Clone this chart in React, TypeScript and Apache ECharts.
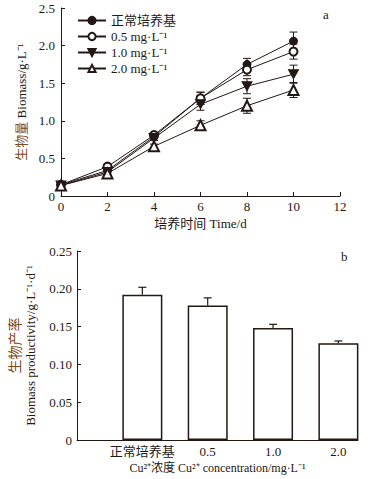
import React, { useEffect, useRef } from "react";
import * as echarts from "echarts";

const days = [0, 2, 4, 6, 8, 10];
const seriesNames = ["正常培养基", "0.5 mg·L⁻¹", "1.0 mg·L⁻¹", "2.0 mg·L⁻¹"];
const normalVals = [0.15, 0.34, 0.79, 1.3, 1.75, 2.06];
const c05Vals = [0.15, 0.39, 0.81, 1.3, 1.68, 1.92];
const c10Vals = [0.14, 0.32, 0.77, 1.22, 1.46, 1.62];
const c20Vals = [0.14, 0.3, 0.66, 0.94, 1.2, 1.41];
const normalErr = [0.02, 0.02, 0.03, 0.08, 0.08, 0.12];
const c05Err = [0.02, 0.02, 0.03, 0.08, 0.08, 0.1];
const c10Err = [0.02, 0.03, 0.03, 0.08, 0.1, 0.12];
const c20Err = [0.02, 0.02, 0.03, 0.06, 0.1, 0.1];

const barCats = ["正常培养基", "0.5", "1.0", "2.0"];
const barVals = [0.192, 0.178, 0.148, 0.128];
const barErr = [0.01, 0.01, 0.005, 0.003];

const INK = "#231815";
const BROWN = "#7a4a22";
const FONT = "'Liberation Serif', 'Times New Roman', 'Noto Sans CJK SC', serif";

export default function App() {
  const ref = useRef<HTMLDivElement>(null);
  useEffect(() => {
    const chart = echarts.init(ref.current!, undefined, { renderer: "svg" });

    const lineVals = [normalVals, c05Vals, c10Vals, c20Vals];
    const errs = [normalErr, c05Err, c10Err, c20Err];
    const symbols = ["circle", "emptyCircle", "path://M0,0 L10,0 L5,9 Z", "emptyTriangle"];
    const sizes: any[] = [8, 8, [10, 9], 10];

    const errSeries = lineVals.map((vals, si) => ({
      type: "custom",
      xAxisIndex: 0,
      yAxisIndex: 0,
      z: 1,
      silent: true,
      data: days.map((d, i) => [d, vals[i], errs[si][i]]),
      renderItem: (params: any, api: any) => {
        const x = api.value(0);
        const y = api.value(1);
        const e = api.value(2);
        const top = api.coord([x, y + e]);
        const bot = api.coord([x, y - e]);
        const hw = 4;
        const st = { stroke: INK, lineWidth: 1 };
        return {
          type: "group",
          children: [
            { type: "line", shape: { x1: top[0], y1: top[1], x2: bot[0], y2: bot[1] }, style: st },
            { type: "line", shape: { x1: top[0] - hw, y1: top[1], x2: top[0] + hw, y2: top[1] }, style: st },
            { type: "line", shape: { x1: bot[0] - hw, y1: bot[1], x2: bot[0] + hw, y2: bot[1] }, style: st },
          ],
        };
      },
    }));

    const lineSeries = lineVals.map((vals, si) => ({
      name: seriesNames[si],
      type: "line",
      xAxisIndex: 0,
      yAxisIndex: 0,
      z: 3,
      data: days.map((d, i) => [d, vals[i]]),
      symbol: symbols[si],
      symbolSize: sizes[si],
      showAllSymbol: true,
      lineStyle: { color: INK, width: 1 },
      itemStyle: { color: INK, borderColor: INK, borderWidth: 1 },
    }));

    const barSeries = {
      type: "bar",
      xAxisIndex: 1,
      yAxisIndex: 1,
      barWidth: 40,
      z: 3,
      data: barVals.map((v, i) => [i + 1, v]),
      itemStyle: { color: "#fff", borderColor: INK, borderWidth: 1.5 },
    };
    const barErrSeries = {
      type: "custom",
      xAxisIndex: 1,
      yAxisIndex: 1,
      z: 4,
      silent: true,
      data: barVals.map((v, i) => [i + 1, v, barErr[i]]),
      renderItem: (params: any, api: any) => {
        const x = api.value(0);
        const y = api.value(1);
        const e = api.value(2);
        const top = api.coord([x, y + e]);
        const base = api.coord([x, y]);
        const st = { stroke: INK, lineWidth: 1.2 };
        return {
          type: "group",
          children: [
            { type: "line", shape: { x1: top[0], y1: top[1], x2: base[0], y2: base[1] }, style: st },
            { type: "line", shape: { x1: top[0] - 4, y1: top[1], x2: top[0] + 4, y2: top[1] }, style: st },
          ],
        };
      },
    };

    const axisCommon = {
      axisLine: { show: true, lineStyle: { color: INK, width: 1 } },
      splitLine: { show: false },
      axisLabel: { color: INK, fontFamily: FONT, fontSize: 13 },
    };

    chart.setOption({
      animation: false,
      textStyle: { fontFamily: FONT, color: INK },
      grid: [
        { left: 61, top: 8, width: 279, height: 188 },
        { left: 74, top: 251, width: 284, height: 189 },
      ],
      legend: {
        data: seriesNames,
        orient: "vertical",
        left: 72,
        top: 9,
        itemWidth: 28,
        itemHeight: 9,
        itemGap: 3,
        textStyle: { fontFamily: FONT, fontSize: 13, color: INK },
      },
      xAxis: [
        {
          ...axisCommon,
          gridIndex: 0,
          type: "value",
          min: 0,
          max: 12,
          interval: 2,
          axisTick: { show: true, inside: true, length: 4, lineStyle: { color: INK } },
          axisLabel: { ...axisCommon.axisLabel, margin: 4 },
          name: "培养时间 Time/d",
          nameLocation: "middle",
          nameGap: 21,
          nameTextStyle: { fontFamily: FONT, fontSize: 13, color: INK },
        },
        {
          ...axisCommon,
          gridIndex: 1,
          type: "value",
          min: 0,
          max: 4.3,
          interval: 1,
          axisTick: { show: false },
          axisLabel: {
            ...axisCommon.axisLabel,
            margin: 5,
            showMaxLabel: false,
            formatter: (v: number) => (v >= 1 && v <= 4 ? barCats[Math.round(v) - 1] : ""),
          },
          name: "Cu²⁺浓度 Cu²⁺ concentration/mg·L⁻¹",
          nameLocation: "middle",
          nameGap: 22,
          nameTextStyle: { fontFamily: FONT, fontSize: 12, color: INK },
        },
      ],
      yAxis: [
        {
          ...axisCommon,
          gridIndex: 0,
          type: "value",
          min: 0,
          max: 2.5,
          interval: 0.5,
          axisTick: { show: true, inside: true, length: 4, lineStyle: { color: INK } },
          axisLabel: {
            ...axisCommon.axisLabel,
            margin: 6,
            formatter: (v: number) => (v === 0 ? "0" : v.toFixed(1)),
          },
          name: "{cn|生物量} Biomass/g·L⁻¹",
          nameLocation: "middle",
          nameGap: 28,
          nameRotate: 90,
          nameTextStyle: {
            fontFamily: FONT,
            fontSize: 13,
            color: INK,
            rich: { cn: { fontFamily: FONT, fontSize: 13, color: BROWN } },
          },
        },
        {
          ...axisCommon,
          gridIndex: 1,
          type: "value",
          min: 0,
          max: 0.25,
          interval: 0.05,
          axisTick: { show: true, inside: true, length: 4, lineStyle: { color: INK } },
          axisLabel: {
            ...axisCommon.axisLabel,
            margin: 5,
            formatter: (v: number) => (v === 0 ? "0" : v.toFixed(2)),
          },
          name: "{cn|生物产率}\nBiomass productivity/g·L⁻¹·d⁻¹",
          nameLocation: "middle",
          nameGap: 39,
          nameRotate: 90,
          nameTextStyle: {
            fontFamily: FONT,
            fontSize: 13,
            lineHeight: 15,
            color: INK,
            rich: { cn: { fontFamily: FONT, fontSize: 14, lineHeight: 15, color: BROWN } },
          },
        },
      ],
      graphic: [
        { type: "text", left: 323, top: 8, style: { text: "a", font: `13px ${FONT}`, fill: INK } },
        { type: "text", left: 341, top: 250, style: { text: "b", font: `13px ${FONT}`, fill: INK } },
      ],
      series: [...errSeries, ...lineSeries, barSeries, barErrSeries],
    } as any);
    return () => chart.dispose();
  }, []);
  return (
    <div
      ref={ref}
      style={{ position: "fixed", left: 0, top: 0, width: 371, height: 479, background: "#fff" }}
    />
  );
}
